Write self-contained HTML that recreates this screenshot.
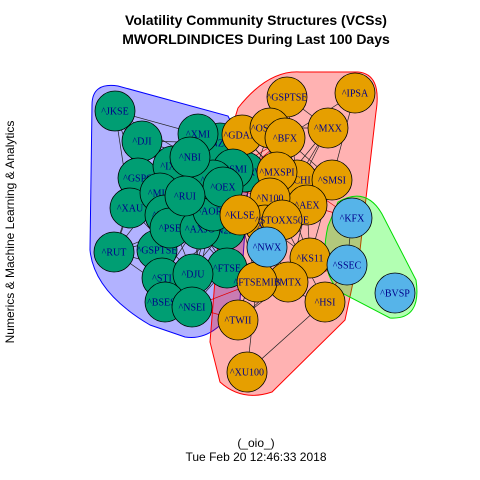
<!DOCTYPE html>
<html><head><meta charset="utf-8"><style>
html,body{margin:0;padding:0;background:#fff;width:480px;height:480px;overflow:hidden}
svg{display:block}
.t{font-family:"Liberation Sans",sans-serif;font-weight:bold;font-size:14px;text-anchor:middle}
.s{font-family:"Liberation Sans",sans-serif;font-size:12px;text-anchor:middle}
.n{font-family:"Liberation Serif",serif;font-size:10px;fill:#00008B;text-anchor:middle}
</style></head><body>
<svg id="chart" width="480" height="480" viewBox="0 0 480 480">
<text class="t" x="256" y="25">Volatility Community Structures (VCSs)</text>
<text class="t" x="256" y="44">MWORLDINDICES During Last 100 Days</text>
<text class="s" x="14" y="232" transform="rotate(-90 14 232)">Numerics &amp; Machine Learning &amp; Analytics</text>
<text class="s" x="256" y="447">(_oio_)</text>
<text class="s" x="256" y="461">Tue Feb 20 12:46:33 2018</text>
<path d="M92,105 Q92,82 118,86 L228,116 L250,160 L240,300 Q215,342 185,337 L150,325 Q94,292 90,250 Z" fill="rgba(0,0,255,0.3)" stroke="#0000ff"/>
<path d="M238,108 Q268,70 300,72 L358,72 Q382,74 376,112 L360,250 L345,320 L272,392 Q242,402 220,382 L210,342 L215,280 L225,150 Z" fill="rgba(255,0,0,0.3)" stroke="#ff0000"/>
<path d="M338,202 Q366,186 382,214 L416,280 Q422,320 390,318 L340,292 Q318,270 328,226 Z" fill="rgba(0,255,0,0.3)" stroke="#00dd00"/>
<g id="edges"></g>
<g id="nodes"></g>
</svg>
<script>
const names=["^JKSE","^DJI","^XMI","^NZ50","^NBI","^IXIC","^GSPC","^NYA","^SSMI","^OEX","^MID","^RUI","^XAU","^RUA","^AORD","^PSE","^AXJO","^N225","^RUT","^GSPTSE","^DJU","^STI","^FTSE","^BSESN","^NSEI","^MERV",
"^GDAXI","^GSPTSE","^IPSA","^OSEAX","^BFX","^MXX","^MXSPI","^FCHI","^SMSI","^N100","^AEX","^KLSE","^XAX","^STOXX50E","^KS11","^FTSEMIB","^MTX","^HSI","^TWII","^XU100",
"^KFX","^NWX","^SSEC","^BVSP"];
const groups=[0,0,0,0,0,0,0,0,0,0,0,0,0,0,0,0,0,0,0,0,0,0,0,0,0,0,
1,1,1,1,1,1,1,1,1,1,1,1,1,1,1,1,1,1,1,1,
2,2,2,2];
const xs=[115,142,198,220,190,173,138,213,233,223,160,185,130,165,213,170,200,225,114,157,193,162,227,165,192,245,
242,287,355,270,285,328,277,297,332,270,307,240,265,282,310,257,288,325,238,247,
352,267,347,395];
const ys=[111,141,134,143,157,166,178,180,169,187,193,196,208,215,211,228,229,230,252,250,274,278,268,302,307,172,
135,97,93,128,138,128,172,180,180,198,205,215,225,220,258,282,282,302,320,372,
218,247,265,293];
const drawOrder=[25,3,0,1,2,26,6,5,12,18,19,10,13,15,17,16,14,8,7,9,4,11,22,21,20,23,24,
27,28,29,30,31,33,32,34,36,35,38,37,39,40,43,42,41,44,45,46,47,48,49];
const fills=["#009E73","#E69F00","#56B4E9"];
const E=document.getElementById('edges'),N=document.getElementById('nodes');
const ns='http://www.w3.org/2000/svg';
for(let i=0;i<names.length;i++){for(let j=i+1;j<names.length;j++){
  const same=groups[i]===groups[j];
  const d=Math.hypot(xs[i]-xs[j],ys[i]-ys[j]);
  if((same&&d<110&&(i+j)%2===0)||(!same&&d<70&&(i*j)%3===0)){
    const l=document.createElementNS(ns,'line');
    
    
    l.setAttribute('x1',xs[i]);l.setAttribute('y1',ys[i]);l.setAttribute('x2',xs[j]);l.setAttribute('y2',ys[j]);
    l.setAttribute('stroke',same?'#222':'#e00000');l.setAttribute('stroke-width','0.7');
    E.appendChild(l);
  }}}
drawOrder.forEach(i=>{
  const g=document.createElementNS(ns,'g');
  
  
  const c=document.createElementNS(ns,'circle');
  c.setAttribute('cx',xs[i]);c.setAttribute('cy',ys[i]);c.setAttribute('r',20);
  c.setAttribute('fill',fills[groups[i]]);c.setAttribute('stroke','#000');c.setAttribute('stroke-width','0.8');
  const t=document.createElementNS(ns,'text');
  t.setAttribute('class','n');t.setAttribute('x',xs[i]);t.setAttribute('y',ys[i]+3.5);
  t.textContent=names[i];
  g.appendChild(c);g.appendChild(t);N.appendChild(g);
});
</script>
</body></html>
